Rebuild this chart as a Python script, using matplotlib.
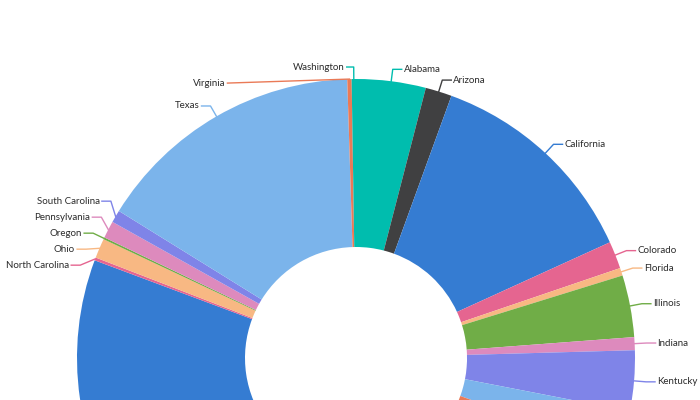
import matplotlib
matplotlib.use('Agg')
import matplotlib.pyplot as plt
import numpy as np

# ---- data (share of each state) ----
states = ['Alabama', 'Arizona', 'California', 'Colorado', 'Florida', 'Illinois',
          'Indiana', 'Kentucky', 'Massachusetts', 'Michigan', 'Minnesota',
          'New Jersey', 'New York', 'North Carolina', 'Ohio', 'Oregon',
          'Pennsylvania', 'South Carolina', 'Texas', 'Virginia', 'Washington']
values = [14.5, 5.5, 45.5, 5.7, 1.6, 12.9, 2.7, 12.6, 9.0, 15.0, 30.0,
          20.0, 115.5, 0.6, 4.1, 0.4, 3.6, 2.6, 56.4, 0.9, 0.9]

palette = ['#00bdae', '#404041', '#357cd2', '#e56590', '#f8b883',
           '#70ad47', '#dd8abd', '#7f84e8', '#7bb4eb', '#ea7a57']
colors = [palette[i % len(palette)] for i in range(len(states))]

# ---- layout ----
W, H = 700, 400
CX, CY = 356, 358          # pie centre in pixel units (y downward)
R, R_IN = 279, 111
FONT = ['Lato', 'DejaVu Sans']
FS = 7.0
TXT = '#2b2b2b'

fig = plt.figure(figsize=(W / 100, H / 100), dpi=100)
ax = fig.add_axes([0, 0, 1, 1])
wedges, _ = ax.pie(values, colors=colors, startangle=90, counterclock=False,
                   radius=R, center=(CX, -CY),
                   wedgeprops=dict(width=R - R_IN, linewidth=0))
ax.set_xlim(0, W)
ax.set_ylim(-H, 0)
ax.set_aspect('equal')
ax.axis('off')

# ---- labels with elbow connectors ----
ELBOW = 12
HSEG = 9
GAP = 16

labels = []
for w, name, col in zip(wedges, states, colors):
    mid = np.deg2rad((w.theta1 + w.theta2) / 2)
    ex, ey = CX + R * np.cos(mid), -CY + R * np.sin(mid)
    if ey < -H + 5:
        continue
    side = 1 if np.cos(mid) >= 0 else -1
    steep = abs(np.cos(mid)) <= 0.3
    ny = -CY + (R + ELBOW) * np.sin(mid)
    labels.append(dict(name=name, col=col, ex=ex, ey=ey, side=side, y=ny,
                       mid=mid, steep=steep))

# spread labels on each side so they do not collide
for side in (1, -1):
    grp = [l for l in labels if l['side'] == side and l['name'] != 'Virginia'
           and not l['steep']]
    grp.sort(key=lambda l: -l['y'])
    clusters = [[g] for g in grp]
    changed = True
    while changed:
        changed = False
        for i in range(len(clusters) - 1):
            a, b = clusters[i], clusters[i + 1]
            top_b = np.mean([l['y'] for l in b]) + (len(b) - 1) * GAP / 2
            bot_a = np.mean([l['y'] for l in a]) - (len(a) - 1) * GAP / 2
            if bot_a - top_b < GAP:
                merged = a + b
                m = np.mean([l['y'] for l in merged])
                for k, l in enumerate(merged):
                    l['y'] = m + ((len(merged) - 1) / 2 - k) * GAP
                clusters[i:i + 2] = [merged]
                changed = True
                break

for l in labels:
    if l['name'] == 'Virginia':
        # pushed aside by Washington: long horizontal leader
        lx, ly = l['ex'] - 122, l['ey'] - 4
        ax.plot([l['ex'], lx], [l['ey'], ly], color=l['col'], lw=1)
        ax.text(lx - 2, ly, l['name'], ha='right', va='center', fontsize=FS,
                family=FONT, color=TXT)
        continue
    if l['steep']:
        bx = CX + (R + ELBOW) * np.cos(l['mid'])
        hs = HSEG - 2 if abs(np.cos(l['mid'])) < 0.05 else HSEG
    else:
        dy = l['y'] + CY
        rr = R + ELBOW
        bx = CX + l['side'] * np.sqrt(max(rr ** 2 - dy ** 2, 0))
        hs = HSEG
    tx = bx + l['side'] * hs
    ax.plot([l['ex'], bx, tx], [l['ey'], l['y'], l['y']], color=l['col'], lw=1)
    ax.text(tx + l['side'] * 2, l['y'], l['name'],
            ha='left' if l['side'] > 0 else 'right', va='center',
            fontsize=FS, family=FONT, color=TXT)

fig.savefig('out.png', dpi=100)
